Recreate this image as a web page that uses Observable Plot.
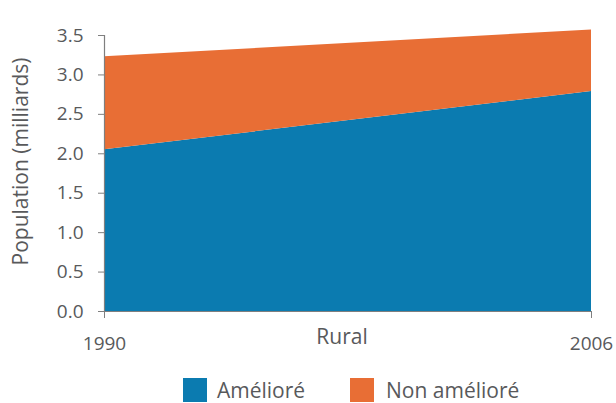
<!DOCTYPE html>
<html><head><meta charset="utf-8">
<script src="https://cdn.jsdelivr.net/npm/d3@7"></script>
<script src="https://cdn.jsdelivr.net/npm/@observablehq/plot@0.6"></script>
<style>
html,body{margin:0;padding:0;background:#fff;}
body{width:616px;height:403px;overflow:hidden;font-family:"Open Sans",sans-serif;}
#legend{position:relative;height:35px;}
.sw{position:absolute;top:10px;width:24px;height:24px;}
.lt{position:absolute;top:7px;font-size:21px;color:#58595b;line-height:30px;}
#chart svg text{font-size:19px;}
#chart svg text.big{font-size:21px;}
</style></head>
<body>
<div id="chart"></div>
<div id="legend">
  <div class="sw" style="left:183px;background:#0b7bb0"></div><div class="lt" style="left:217px">Amélioré</div>
  <div class="sw" style="left:350px;background:#e86e35"></div><div class="lt" style="left:386px">Non amélioré</div>
</div>
<script>
const years = [1990, 2006];
const categories = ["Amélioré", "Non amélioré"];
const ameliore = [2.05, 2.79];
const nonAmeliore = [1.18, 0.78];
const yTicks = [0, 0.5, 1, 1.5, 2, 2.5, 3, 3.5];
const colors = ["#0b7bb0", "#e86e35"];
const yLabel = "Population (milliards)";
const xLabel = "Rural";

const data = [];
years.forEach((y, i) => {
  data.push({year: y, cat: categories[0], value: ameliore[i]});
  data.push({year: y, cat: categories[1], value: nonAmeliore[i]});
});

const grey = "#58595b";
const plot = Plot.plot({
  width: 616,
  height: 368,
  marginLeft: 104,
  marginRight: 25,
  marginTop: 35,
  marginBottom: 57,
  style: {fontFamily: "Open Sans, sans-serif", color: grey},
  x: {domain: [1990, 2006]},
  y: {domain: [0, 3.5]},
  color: {domain: categories, range: colors},
  marks: [
    Plot.areaY(data, {x: "year", y: "value", fill: "cat", z: "cat", order: categories}),
    Plot.ruleX([1990], {stroke: "#7f7f7f", strokeWidth: 1.2}),
    Plot.ruleY([0], {stroke: "#7f7f7f", strokeWidth: 1.2}),
    Plot.axisY({ticks: yTicks, tickFormat: d3.format(".1f"), tickSize: 6, tickPadding: 15,
      stroke: "#7f7f7f", fill: grey, label: null}),
    Plot.axisX({ticks: years, tickFormat: d3.format("d"), tickSize: 7, tickPadding: 18,
      stroke: "#7f7f7f", fill: grey, label: null}),
    Plot.text([yLabel], {text: d => d, frameAnchor: "left", rotate: -90, dx: -83, dy: -12,
      lineAnchor: "middle", textAnchor: "middle", fill: grey}),
    Plot.text([xLabel], {text: d => d, frameAnchor: "bottom", dx: -6, dy: 26,
      lineAnchor: "middle", textAnchor: "middle", fill: grey})
  ]
});
plot.querySelectorAll("g[aria-label='text'] text").forEach(t => t.classList.add("big"));
document.getElementById("chart").appendChild(plot);
</script>
</body></html>
